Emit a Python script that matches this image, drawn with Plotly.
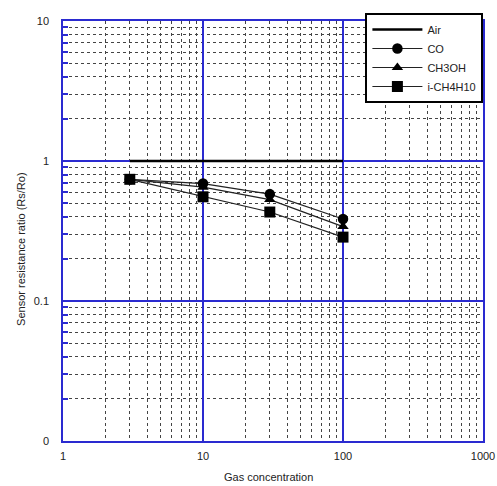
import plotly.graph_objects as go

# Data
air_x = [3, 10, 30, 100]
air_y = [1.0, 1.0, 1.0, 1.0]
co_x = [3, 10, 30, 100]
co_y = [0.74, 0.69, 0.58, 0.385]
ch3oh_x = [3, 10, 30, 100]
ch3oh_y = [0.74, 0.65, 0.53, 0.34]
ic4h10_x = [3, 10, 30, 100]
ic4h10_y = [0.74, 0.555, 0.432, 0.286]

x_tick_vals = [1, 10, 100, 1000]
x_tick_text = ["1", "10", "100", "1000"]
y_tick_vals = [0.01, 0.1, 1, 10]
y_tick_text = ["0", "0.1", "1", "10"]

BLUE = "#2a2ad0"
FONT = "Liberation Sans, Arial, sans-serif"
TXT = "#222"

fig = go.Figure()
fig.add_trace(go.Scatter(x=air_x, y=air_y, name="Air", mode="lines",
                         line=dict(color="black", width=2.5), legendrank=1))
fig.add_trace(go.Scatter(x=ch3oh_x, y=ch3oh_y, name="CH3OH", mode="lines+markers",
                         line=dict(color="#222", width=1.2),
                         marker=dict(symbol="triangle-up", size=10, color="black"),
                         legendrank=3))
fig.add_trace(go.Scatter(x=co_x, y=co_y, name="CO", mode="lines+markers",
                         line=dict(color="#222", width=1.2),
                         marker=dict(symbol="circle", size=10.5, color="black"),
                         legendrank=2))
fig.add_trace(go.Scatter(x=ic4h10_x, y=ic4h10_y, name="i-CH4H10", mode="lines+markers",
                         line=dict(color="#222", width=1.2),
                         marker=dict(symbol="square", size=11, color="black"),
                         legendrank=4))

minor_vals = [m * 10.0 ** d for d in range(-2, 3) for m in range(2, 10)]

fig.update_xaxes(type="log", range=[0, 3], tickvals=x_tick_vals, ticktext=x_tick_text,
                 showgrid=True, gridcolor=BLUE, gridwidth=1.5,
                 showline=True, linecolor=BLUE, linewidth=1.5, mirror=True,
                 ticks="", zeroline=False, automargin=False, ticklabelstandoff=4,
                 minor=dict(tickvals=[v for v in minor_vals if 1 < v < 1000],
                            showgrid=True, gridcolor="#444", griddash="dot", gridwidth=1,
                            ticks=""),
                 tickfont=dict(size=11, family=FONT, color=TXT))
fig.update_yaxes(type="log", range=[-2, 1], tickvals=y_tick_vals, ticktext=y_tick_text,
                 showgrid=True, gridcolor=BLUE, gridwidth=1.5,
                 showline=True, linecolor=BLUE, linewidth=1.5, mirror=True,
                 ticks="", zeroline=False, automargin=False, ticklabelstandoff=10,
                 minor=dict(tickvals=[v for v in minor_vals if 0.01 < v < 10],
                            showgrid=True, gridcolor="#444", griddash="dot", gridwidth=1,
                            ticks="inside", ticklen=5, tickcolor=BLUE, tickwidth=1.5),
                 tickfont=dict(size=11, family=FONT, color=TXT))

fig.add_annotation(text="Gas concentration", xref="paper", yref="paper",
                   x=0.49, y=-0.085, showarrow=False, yanchor="middle",
                   font=dict(size=11, family=FONT, color=TXT))
fig.add_annotation(text="Sensor resistance ratio (Rs/Ro)", xref="paper", yref="paper",
                   x=-0.1, y=0.455, showarrow=False, textangle=-90, xanchor="center",
                   font=dict(size=11, family=FONT, color=TXT))

fig.update_layout(
    width=497, height=486,
    margin=dict(l=63, r=14, t=21, b=45, autoexpand=False),
    plot_bgcolor="white", paper_bgcolor="white",
    font=dict(family=FONT, size=11, color=TXT),
    legend=dict(x=0.72, y=1.019, xanchor="left", yanchor="top",
                bgcolor="white", bordercolor="black", borderwidth=2,
                font=dict(size=11, family=FONT, color=TXT),
                traceorder="normal", tracegroupgap=0, itemwidth=50),
    showlegend=True,
)

fig.write_html("out.html", config={"displayModeBar": False},
               post_script="document.body.style.margin='0';document.body.style.overflow='hidden';")
